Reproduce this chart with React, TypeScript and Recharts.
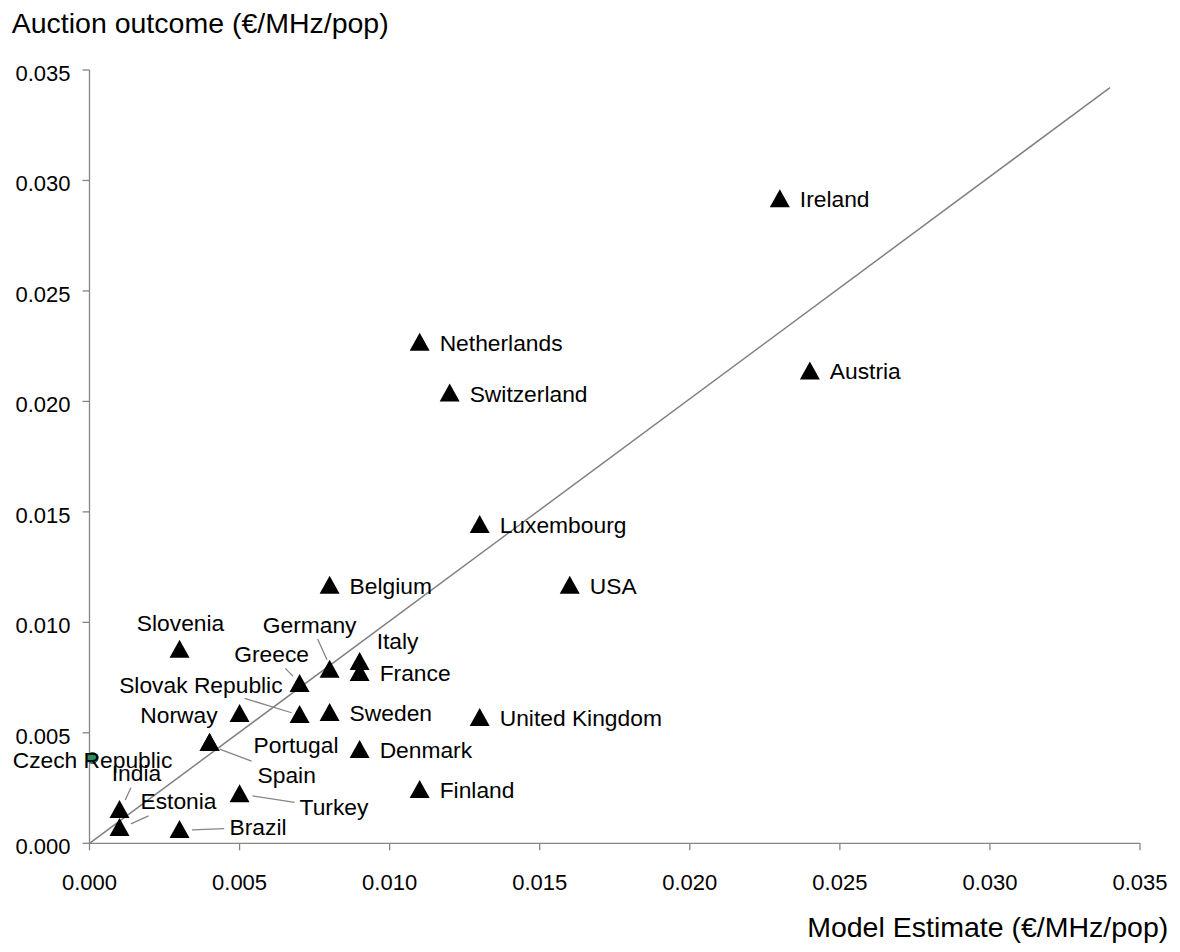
import React from "react";
import { ScatterChart, Scatter, XAxis, YAxis, ReferenceLine, Label } from "recharts";

// ---- data ----
const countries = [
  "Ireland", "Austria", "Netherlands", "Switzerland", "Luxembourg", "USA", "Belgium",
  "Slovenia", "Germany", "Italy", "France", "Greece", "Slovak Republic", "Sweden",
  "Norway", "United Kingdom", "Portugal", "Spain", "Denmark", "Finland", "Turkey",
  "India", "Estonia", "Brazil",
];
const modelEstimate = [
  0.023, 0.024, 0.011, 0.012, 0.013, 0.016, 0.008,
  0.003, 0.008, 0.009, 0.009, 0.007, 0.007, 0.008,
  0.005, 0.013, 0.004, 0.004, 0.009, 0.011, 0.005,
  0.001, 0.001, 0.003,
];
const auctionOutcome = [
  0.0292, 0.0214, 0.0227, 0.0204, 0.01445, 0.0117, 0.0117,
  0.0088, 0.0079, 0.00825, 0.00775, 0.00725, 0.00585, 0.00594,
  0.0059, 0.00572, 0.00458, 0.00458, 0.00427, 0.00246, 0.00227,
  0.00155, 0.00074, 0.00065,
];
const czechName = ["Czech Republic"];
const czechEstimate = [0.0001];
const czechOutcome = [0.00386];
const fitLineX = [0, 0.034];
const fitLineY = [0, 0.0342];
const axisTicks = [0, 0.005, 0.01, 0.015, 0.02, 0.025, 0.03, 0.035];
const xTitle = "Model Estimate (€/MHz/pop)";
const yTitle = "Auction outcome (€/MHz/pop)";

const mainData = countries.map((name, i) => ({ name, x: modelEstimate[i], y: auctionOutcome[i] }));
const czechData = czechName.map((name, i) => ({ name, x: czechEstimate[i], y: czechOutcome[i] }));

// ---- label layout (pixel offsets from the marker) ----
type LabelPos = { anchor: "start" | "middle" | "end"; dx: number; dy: number; leader?: number[] };
const defaultLabel: LabelPos = { anchor: "start", dx: 20, dy: 9 };
const labelLayout: Record<string, LabelPos> = {
  Slovenia: { anchor: "middle", dx: 1, dy: -18 },
  Germany: { anchor: "middle", dx: -20, dy: -36, leader: [-12, -29.7, -2.6, -9] },
  Italy: { anchor: "start", dx: 17, dy: -12 },
  Greece: { anchor: "middle", dx: -28, dy: -21, leader: [-14.3, -14.7, -6.7, -7] },
  "Slovak Republic": { anchor: "end", dx: -17, dy: -21, leader: [-55, -15.7, -8, -1.3] },
  Norway: { anchor: "end", dx: -22, dy: 10 },
  Portugal: { anchor: "start", dx: 44, dy: 11 },
  Spain: { anchor: "start", dx: 48, dy: 41, leader: [10, 7, 42, 19] },
  Turkey: { anchor: "start", dx: 60, dy: 22, leader: [13, 2.7, 55, 9.3] },
  India: { anchor: "middle", dx: 17, dy: -28, leader: [11.4, -21.3, 5.7, -9] },
  Estonia: { anchor: "start", dx: 21, dy: -18, leader: [29, -11, 11.4, -3] },
  Brazil: { anchor: "start", dx: 50, dy: 6, leader: [12.4, 1, 44.7, -0.3] },
  "Czech Republic": { anchor: "middle", dx: 0, dy: 10 },
};

const FONT = "'Liberation Sans', Arial, Helvetica, sans-serif";
const GREY = "#858585";

const PointLabel = ({ cx, cy, name }: { cx: number; cy: number; name: string }) => {
  const l = labelLayout[name] || defaultLabel;
  return (
    <g>
      {l.leader && (
        <line
          x1={cx + l.leader[0]}
          y1={cy + l.leader[1]}
          x2={cx + l.leader[2]}
          y2={cy + l.leader[3]}
          stroke={GREY}
          strokeWidth={1.3}
        />
      )}
      <text x={cx + l.dx} y={cy + l.dy} textAnchor={l.anchor} fontFamily={FONT} fontSize={22.8} fill="#000">
        {name}
      </text>
    </g>
  );
};

const TriangleShape = (props: any) => {
  const { cx, cy, payload } = props;
  if (cx == null || cy == null) return null;
  return (
    <g>
      <polygon points={`${cx},${cy - 9} ${cx - 10},${cy + 9} ${cx + 10},${cy + 9}`} fill="#000" />
      <PointLabel cx={cx} cy={cy} name={payload.name} />
    </g>
  );
};

const CircleShape = (props: any) => {
  const { cx, cy, payload } = props;
  if (cx == null || cy == null) return null;
  return (
    <g>
      <circle cx={cx} cy={cy} r={5.5} fill="#2E8B62" stroke="#1D5E44" strokeWidth={1} />
      <PointLabel cx={cx} cy={cy} name={payload.name} />
    </g>
  );
};

const fmt = (v: number) => v.toFixed(3);

export default function App() {
  return (
    <div style={{ width: 1172, height: 944 }}>
      <ScatterChart
        width={1172}
        height={944}
        margin={{ top: 62, right: 40, bottom: 78.7, left: 21.5 }}
      >
        <XAxis
          type="number"
          dataKey="x"
          domain={[0, 0.035]}
          ticks={axisTicks}
          tickFormatter={fmt}
          height={30}
          stroke={GREY}
          strokeWidth={1.3}
          tickSize={7}
          tickMargin={24}
          tick={{ fill: "#000", fontSize: 22, fontFamily: FONT }}
        >
          <Label
            content={() => (
              <text x={1160.3} y={929.3} textAnchor="end" fontFamily={FONT} fontSize={28.5} fill="#000">
                {xTitle}
              </text>
            )}
          />
        </XAxis>
        <YAxis
          type="number"
          dataKey="y"
          domain={[0, 0.035]}
          ticks={axisTicks}
          tickFormatter={fmt}
          width={60}
          stroke={GREY}
          strokeWidth={1.3}
          tickSize={7}
          tickMargin={12}
          tick={{ fill: "#000", fontSize: 22, fontFamily: FONT, dy: 3 }}
        >
          <Label
            content={() => (
              <text x={3.7} y={25.3} textAnchor="start" fontFamily={FONT} fontSize={28.5} fill="#000">
                {yTitle}
              </text>
            )}
          />
        </YAxis>
        <ReferenceLine
          segment={[
            { x: fitLineX[0], y: fitLineY[0] },
            { x: fitLineX[1], y: fitLineY[1] },
          ]}
          stroke="#808080"
          strokeWidth={1.5}
          ifOverflow="visible"
        />
        <Scatter data={czechData} shape={CircleShape} isAnimationActive={false} />
        <Scatter data={mainData} shape={TriangleShape} isAnimationActive={false} />
      </ScatterChart>
    </div>
  );
}
